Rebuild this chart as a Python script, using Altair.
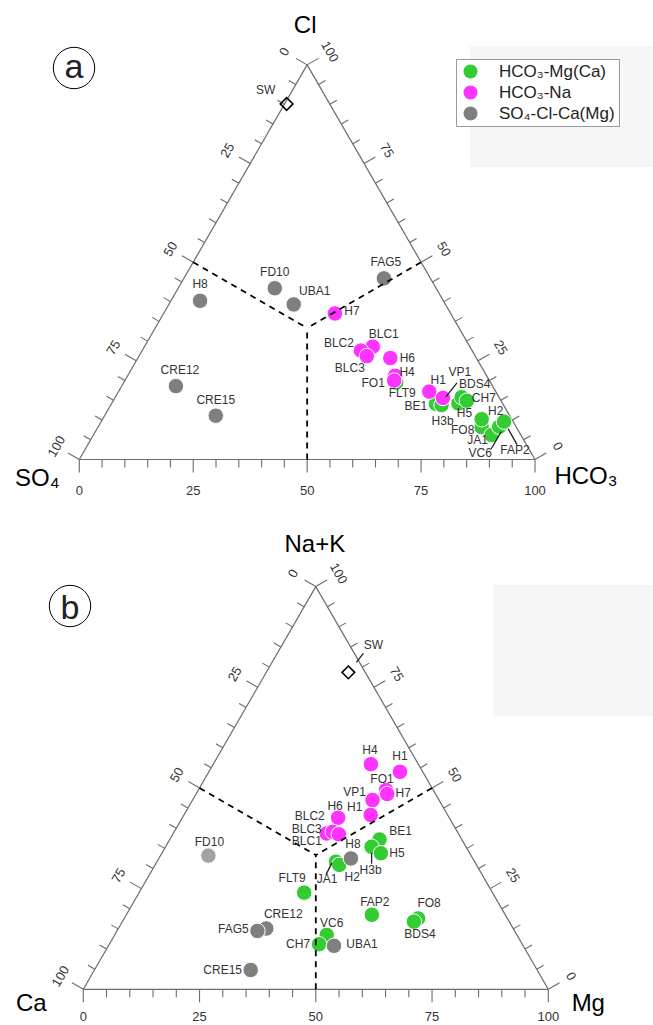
import math
import altair as alt
import pandas as pd

S3 = math.sqrt(3) / 2.0

# ---------------- categories ----------------
categories = ["HCO₃-Mg(Ca)", "HCO₃-Na", "SO₄-Cl-Ca(Mg)"]
cat_colors = ["#33cc33", "#ff33ff", "#7f7f7f"]
G, M, Y = categories

# ---------------- panel a : anions (Cl apex, SO4 left, HCO3 right), % meq ----------------
a_names = ["FLT9", "BE1", "H3b", "H5", "BDS4", "CH7", "FO8", "H2", "JA1", "VC6", "FAP2",
           "H7", "BLC1", "BLC2", "BLC3", "H6", "H4", "FO1", "H1", "VP1",
           "H8", "FD10", "UBA1", "CRE12", "CRE15", "FAG5"]
a_groups = [G] * 11 + [M] * 9 + [Y] * 6
a_cl = [19.5, 14.1, 13.8, 14.2, 15.8, 14.9, 8.2, 10.2, 6.2, 8.3, 9.6,
        37.0, 28.6, 27.6, 26.2, 25.7, 21.2, 20.0, 17.2, 15.6,
        40.2, 43.4, 39.3, 18.6, 11.1, 45.9]
a_hco3 = [59.8, 71.2, 72.6, 76.1, 76.0, 77.6, 84.2, 83.2, 87.4, 88.0, 88.4,
          37.6, 50.1, 48.0, 50.0, 55.4, 58.7, 59.1, 68.2, 72.0,
          6.4, 21.2, 27.4, 11.9, 24.4, 43.9]
a_sw = [90.1, 0.45]  # Cl, HCO3 of sea water

# label offsets (px) for panel a
a_lab_dx = [6, -20, 1, 6, 13, 17, -19, 14, -14, -19, 11,
            17, 11, -22, -17, 17, 12, -21, 9, 17,
            0, 0, 21, 4, 0, 2]
a_lab_dy = [10, 2, 16, 10, -13, -3, 3, -8, 5, 26, 28,
            -2, -13, -8, 12, 0, -4, 2, -12, -26,
            -17, -16, -13, -16, -16, -16]
a_sw_lab = [-21, -14]
a_leaders = {"VP1": (3, -1, 14, -15), "VC6": (2, 5, -8, 22), "FAP2": (4, 7, 13, 23)}
a_faded = []

# ---------------- panel b : cations (Na+K apex, Ca left, Mg right), % meq ----------------
b_names = ["BE1", "H3b", "H5", "JA1", "H2", "FLT9", "FAP2", "FO8", "BDS4", "VC6", "CH7",
           "H4", "H1", "FO1", "H7", "VP1", "H1", "H6", "BLC2", "BLC3", "BLC1",
           "FD10", "CRE12", "FAG5", "CRE15", "UBA1", "H8"]
b_groups = [G] * 11 + [M] * 10 + [Y] * 6
b_nak = [37.2, 35.4, 33.8, 31.7, 30.9, 24.0, 18.5, 17.6, 16.8, 13.5, 11.2,
         55.9, 54.0, 49.5, 48.5, 47.0, 43.3, 42.6, 38.7, 39.1, 38.5,
         33.2, 15.1, 14.5, 4.8, 10.8, 32.5]
b_mg = [45.1, 44.3, 47.1, 38.5, 39.6, 35.5, 52.8, 63.2, 62.7, 45.6, 45.1,
        33.9, 41.1, 40.35, 41.1, 38.7, 40.15, 33.5, 33.0, 34.1, 35.7,
        10.3, 31.8, 30.2, 33.6, 48.5, 41.3]
b_sw = [78.7, 17.65]  # Na+K, Mg of sea water

b_lab_dx = [21, -1, 16, -9, 13, -12, 3, 11, 6, 5, -21,
            -1, 0, -4, 16, -18, -16, -3, -17, -26, -32,
            1, 17, -24, -28, 28, 2]
b_lab_dy = [-8, 23, 0, 17, 12, -15, -13, -15, 12, -12, 0,
            -14, -16, -11, -1, -8, -8, -12, -17, -3, 7,
            -14, -14, -2, 0, -2, -14]
b_sw_lab = [25, -27]
b_leaders = {"JA1": (-4, 1, -10, 13), "H3b": (0, 6, 0, 17), "SW": (8, -10, 15, -19)}
b_faded = ["FD10"]

tick_values = list(range(0, 101, 5))
major_every = 25

FONT = "Liberation Sans"
W = 653
LINE = "#6b6b6b"


def tern(top, right):
    return right + top / 2.0, top * S3


def panel(names, groups, top, right, ldx, ldy, sw, sw_lab, leaders, faded,
          k, ox, oy, H, titles, letter, letter_xy, bg_box, bottom_off):
    xs = alt.Scale(domain=[-ox / k, (W - ox) / k], nice=False, zero=False)
    ys = alt.Scale(domain=[-(H - oy) / k, oy / k], nice=False, zero=False)

    def XY(xf="x", yf="y"):
        return dict(x=alt.X(f"{xf}:Q", scale=xs, axis=None),
                    y=alt.Y(f"{yf}:Q", scale=ys, axis=None))

    layers = []
    dummy = pd.DataFrame({"d": [0]})

    # light background box
    layers.append(alt.Chart(dummy).mark_rect(color="#f6f6f6").encode(
        x=alt.value(bg_box[0]), x2=alt.value(bg_box[1]),
        y=alt.value(bg_box[2]), y2=alt.value(bg_box[3])))

    # triangle frame
    vL, vR, vT = tern(0, 0), tern(0, 100), tern(100, 0)
    edges = pd.DataFrame([
        dict(x=vL[0], y=vL[1], x2=vR[0], y2=vR[1]),
        dict(x=vL[0], y=vL[1], x2=vT[0], y2=vT[1]),
        dict(x=vR[0], y=vR[1], x2=vT[0], y2=vT[1])])
    layers.append(alt.Chart(edges).mark_rule(color=LINE, strokeWidth=1.2).encode(
        x2="x2:Q", y2="y2:Q", **XY()))

    # ticks and tick labels
    ticks, lab_b, lab_l, lab_r = [], [], [], []
    for t in tick_values:
        ln = (13 if t % major_every == 0 else 8) / k
        px, py = t, 0.0
        ticks.append(dict(x=px, y=py, x2=px, y2=py - ln))
        lx, ly = (100 - t) / 2.0, (100 - t) * S3
        ticks.append(dict(x=lx, y=ly, x2=lx - S3 * ln, y2=ly + 0.5 * ln))
        qx, qy = 100 - t / 2.0, t * S3
        ticks.append(dict(x=qx, y=qy, x2=qx + S3 * ln, y2=qy + 0.5 * ln))
        if t % major_every == 0:
            lab_b.append(dict(x=t, y=-bottom_off / k, txt=str(t)))
            d = 26 / k
            lab_l.append(dict(x=lx - S3 * d, y=ly + 0.5 * d, txt=str(t)))
            lab_r.append(dict(x=qx + S3 * d, y=qy + 0.5 * d, txt=str(t)))
    layers.append(alt.Chart(pd.DataFrame(ticks)).mark_rule(color=LINE, strokeWidth=1.1).encode(
        x2="x2:Q", y2="y2:Q", **XY()))
    for rows, ang in ((lab_b, 0), (lab_l, 300), (lab_r, 60)):
        layers.append(alt.Chart(pd.DataFrame(rows)).mark_text(
            font=FONT, fontSize=13, color="#333333", angle=ang,
            align="center", baseline="middle").encode(text="txt:N", **XY()))

    # data points
    df = pd.DataFrame({"name": names, "group": groups, "top": top, "right": right,
                       "ldx": ldx, "ldy": ldy,
                       "fade": [n in faded for n in names]})
    legend = alt.Legend(title=None, orient="none", legendX=456, legendY=59,
                        symbolType="circle", symbolSize=196, symbolStrokeWidth=0,
                        symbolOpacity=1, labelFont=FONT, labelFontSize=17,
                        labelColor="#222222", strokeColor="#999999", fillColor="white",
                        padding=4, symbolOffset=2, labelOffset=20, rowPadding=3,
                        labelLimit=300)
    color = alt.Color("group:N", scale=alt.Scale(domain=categories, range=cat_colors),
                      legend=legend)
    base = alt.Chart(df).transform_calculate(
        x="datum.right + datum.top / 2",
        y=f"datum.top * {S3}",
        lx=f"datum.right + datum.top / 2 + datum.ldx / {k}",
        ly=f"datum.top * {S3} - datum.ldy / {k}")
    layers.append(base.mark_circle(size=240, stroke="white", strokeWidth=1).encode(
        color=color,
        opacity=alt.condition("datum.fade", alt.value(0.72), alt.value(1)),
        **XY()))

    # dashed dividers (drawn over the points)
    cx, cy = 50.0, 100 * S3 / 3
    dashes = pd.DataFrame([
        dict(x=25.0, y=50 * S3, x2=cx, y2=cy),
        dict(x=75.0, y=50 * S3, x2=cx, y2=cy),
        dict(x=50.0, y=0.0, x2=cx, y2=cy)])
    layers.append(alt.Chart(dashes).mark_rule(color="black", strokeWidth=1.8,
                                              strokeDash=[6, 5]).encode(
        x2="x2:Q", y2="y2:Q", **XY()))

    # point labels
    layers.append(base.mark_text(font=FONT, fontSize=12, color="#333333",
                                 align="center", baseline="middle").encode(
        text="name:N", **XY("lx", "ly")))

    # sea water
    swdf = pd.DataFrame({"name": ["SW"], "top": [sw[0]], "right": [sw[1]],
                         "ldx": [sw_lab[0]], "ldy": [sw_lab[1]]})
    swb = alt.Chart(swdf).transform_calculate(
        x="datum.right + datum.top / 2",
        y=f"datum.top * {S3}",
        lx=f"datum.right + datum.top / 2 + datum.ldx / {k}",
        ly=f"datum.top * {S3} - datum.ldy / {k}")
    layers.append(swb.mark_point(shape="diamond", size=160, filled=False, color="black",
                                 strokeWidth=1.6, opacity=1).encode(**XY()))
    layers.append(swb.mark_text(font=FONT, fontSize=12, color="#333333",
                                align="center", baseline="middle").encode(
        text="name:N", **XY("lx", "ly")))

    # leader lines
    rows = []
    for nm, (sx, sy, ex, ey) in leaders.items():
        if nm == "SW":
            t0, r0 = sw
        else:
            i = names.index(nm)
            t0, r0 = top[i], right[i]
        rows.append(dict(top=t0, right=r0, sx=sx, sy=sy, ex=ex, ey=ey))
    ld = alt.Chart(pd.DataFrame(rows)).transform_calculate(
        x=f"datum.right + datum.top / 2 + datum.sx / {k}",
        y=f"datum.top * {S3} - datum.sy / {k}",
        x2=f"datum.right + datum.top / 2 + datum.ex / {k}",
        y2=f"datum.top * {S3} - datum.ey / {k}")
    layers.append(ld.mark_rule(color="#222222", strokeWidth=1.3).encode(
        x2="x2:Q", y2="y2:Q", **XY()))

    # corner titles
    for (txt, vx, vy, dx, dy) in titles:
        layers.append(alt.Chart(pd.DataFrame({"x": [vx], "y": [vy], "t": [txt]})).mark_text(
            font=FONT, fontSize=24, color="black", align="center", baseline="alphabetic",
            dx=dx, dy=dy).encode(text="t:N", **XY()))

    # circled panel letter
    layers.append(alt.Chart(dummy).mark_point(shape="circle", size=1714, filled=False,
                                              color="black", strokeWidth=1, opacity=1).encode(
        x=alt.value(letter_xy[0]), y=alt.value(letter_xy[1])))
    layers.append(alt.Chart(dummy).mark_text(font=FONT, fontSize=34, color="#222222",
                                             align="center", baseline="alphabetic",
                                             text=letter).encode(
        x=alt.value(letter_xy[0]), y=alt.value(letter_xy[2])))

    return alt.layer(*layers).properties(width=W, height=H)


# panel a geometry: 4.557 px per %, origin (SO4 corner) at (79.3, 459.5)
ka, oxa, oya, HA = 4.557, 79.3, 459.5, 510
titles_a = [("Cl", 50.0, 100 * S3, -2, -32),
            ("SO₄", 0.0, 0.0, -42, 26),
            ("HCO₃", 100.0, 0.0, 51, 24)]
pa = panel(a_names, a_groups, a_cl, a_hco3, a_lab_dx, a_lab_dy, a_sw, a_sw_lab, a_leaders,
           a_faded, ka, oxa, oya, HA, titles_a, "a", (74, 68, 78), (470, 653, 46, 167), 31)

# panel b geometry: 4.65 px per %, origin (Ca corner) at (83.3, 479.3) within panel
kb, oxb, oyb, HB = 4.65, 83.3, 479.3, 515
titles_b = [("Na+K", 50.0, 100 * S3, -1, -35),
            ("Ca", 0.0, 0.0, -52, 22),
            ("Mg", 100.0, 0.0, 40, 22)]
pb = panel(b_names, b_groups, b_nak, b_mg, b_lab_dx, b_lab_dy, b_sw, b_sw_lab, b_leaders,
           b_faded, kb, oxb, oyb, HB, titles_b, "b", (70, 96, 109), (493, 653, 75, 206), 28)

chart = alt.vconcat(pa, pb, spacing=0, bounds="flush").resolve_scale(
    x="independent", y="independent").properties(padding=0).configure_view(stroke=None)

chart.save("out.html", embed_options={"renderer": "svg", "actions": False})
